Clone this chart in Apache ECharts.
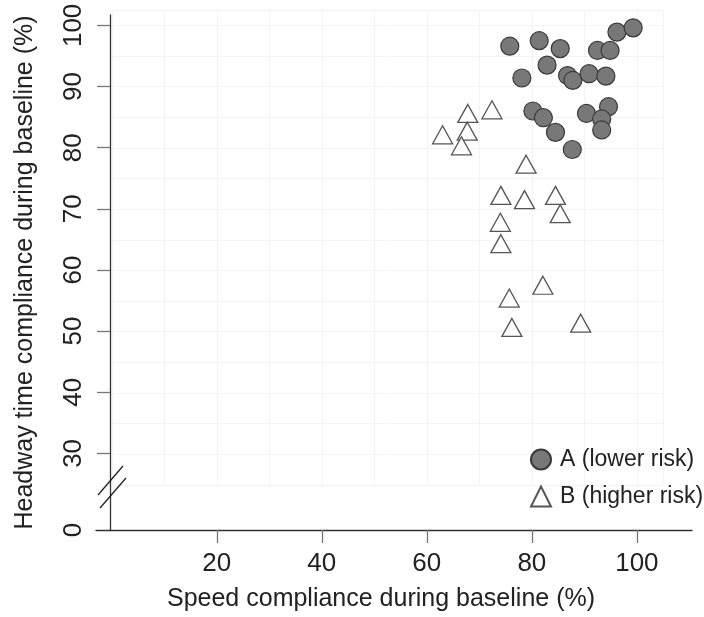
<!DOCTYPE html>
<html>
<head>
<meta charset="utf-8">
<script src="https://cdn.jsdelivr.net/npm/echarts@6/dist/echarts.min.js"></script>
<style>
    html,body{margin:0;padding:0;background:#fff;}
    #chart1{width:704px;height:617px;}
</style>
</head>
<body>
<div id="chart1"></div>
<script>
// 数据
var groupA_x = [75.8, 81.4, 85.4, 96.2, 99.3, 92.5, 94.9, 82.9, 78.1, 86.8, 87.8, 90.9, 94.1, 80.2, 82.2, 84.5, 87.7, 90.4, 94.6, 93.3, 93.3];
var groupA_y = [96.6, 97.5, 96.2, 98.9, 99.6, 95.9, 95.9, 93.5, 91.4, 91.8, 91.0, 92.1, 91.7, 86.0, 84.9, 82.5, 79.7, 85.6, 86.7, 84.7, 82.9];
var groupB_x = [67.8, 72.4, 63.0, 67.7, 66.6, 78.9, 74.1, 78.6, 84.5, 85.4, 74.0, 74.1, 82.1, 75.7, 76.2, 89.3];
var groupB_y = [85.6, 86.2, 82.1, 82.7, 80.3, 77.3, 72.2, 71.5, 72.2, 69.2, 67.8, 64.3, 57.5, 55.4, 50.6, 51.3];
var xTicks = [20, 40, 60, 80, 100];
var yTicks = [30, 40, 50, 60, 70, 80, 90, 100];
var yBreakPos = 17.47;   // 断轴处 "0" 的位置
var seriesNames = ['A (lower risk)', 'B (higher risk)'];

function pairs(xs, ys) {
    var out = [];
    for (var i = 0; i < xs.length; i++) {
        out.push([xs[i], ys[i]]);
    }
    return out;
}

var myChart1 = echarts.init(document.getElementById('chart1'));
var font = 'Liberation Sans, Arial, sans-serif';

var option1 = {
    animation: false,
    textStyle: {fontFamily: font},
    grid: [
        {left: 96, right: 12, top: 15, bottom: 86},
        // 淡色背景网格
        {left: 111.75, right: 40.9, top: 10.1, bottom: 132.1}
    ],
    legend: {
        orient: 'vertical',
        left: 525,
        top: 443,
        itemWidth: 20,
        itemHeight: 20,
        itemGap: 14,
        textStyle: {fontSize: 23, lineHeight: 20, color: '#222', fontFamily: font, padding: [0, 0, 0, 4]},
        data: seriesNames
    },
    xAxis: [
        {
            type: 'value',
            gridIndex: 0,
            min: -3,
            max: 110.5,
            name: 'Speed compliance during baseline (%)',
            nameLocation: 'middle',
            nameGap: 57,
            nameTextStyle: {fontSize: 25, color: '#222', fontFamily: font, padding: [0, 26, 0, 0]},
            axisLine: {onZero: false, lineStyle: {color: '#333', width: 1.3}},
            axisTick: {show: true, length: 13, customValues: xTicks, lineStyle: {color: '#777', width: 1.3}},
            axisLabel: {fontSize: 26, color: '#222', margin: 21, customValues: xTicks},
            splitLine: {show: false}
        },
        {
            type: 'value',
            gridIndex: 1,
            min: 0,
            max: 105,
            interval: 10,
            axisLine: {show: false},
            axisTick: {show: false},
            axisLabel: {show: false},
            splitLine: {show: true, lineStyle: {color: '#f4f4f4', width: 1}}
        }
    ],
    yAxis: [
        {
            type: 'value',
            gridIndex: 0,
            min: yBreakPos,
            max: 101.7,
            offset: -14,
            name: 'Headway time compliance during baseline (%)',
            nameLocation: 'middle',
            nameRotate: 90,
            nameGap: 72,
            nameTextStyle: {fontSize: 25, color: '#222', fontFamily: font},
            axisLine: {onZero: false, lineStyle: {color: '#333', width: 1.3}},
            axisTick: {show: true, length: 13, customValues: yTicks, lineStyle: {color: '#777', width: 1.3}},
            axisLabel: {
                fontSize: 26,
                color: '#222',
                rotate: 90,
                margin: 23,
                customValues: [yBreakPos].concat(yTicks),
                formatter: function (v) {
                    return v < 20 ? '0' : String(Math.round(v));
                }
            },
            splitLine: {show: false}
        },
        {
            type: 'value',
            gridIndex: 1,
            min: 25,
            max: 102.5,
            interval: 5,
            axisLine: {show: false},
            axisTick: {show: false},
            axisLabel: {show: false},
            splitLine: {show: true, lineStyle: {color: '#f4f4f4', width: 1}}
        }
    ],
    // 断轴符号
    graphic: [
        {type: 'line', shape: {x1: 98, y1: 495, x2: 123, y2: 466}, style: {stroke: '#222', lineWidth: 1.3}, z: 100},
        {type: 'line', shape: {x1: 100, y1: 508, x2: 126, y2: 478}, style: {stroke: '#222', lineWidth: 1.3}, z: 100}
    ],
    series: [
        {
            name: seriesNames[0],
            type: 'scatter',
            xAxisIndex: 0,
            yAxisIndex: 0,
            symbol: 'circle',
            symbolSize: 18,
            itemStyle: {color: '#787878', borderColor: '#3a3a3a', borderWidth: 1.2, opacity: 1},
            data: pairs(groupA_x, groupA_y)
        },
        {
            name: seriesNames[1],
            type: 'scatter',
            xAxisIndex: 0,
            yAxisIndex: 0,
            symbol: 'triangle',
            symbolSize: [20, 18],
            itemStyle: {color: '#fff', borderColor: '#555', borderWidth: 1.3, opacity: 1},
            data: pairs(groupB_x, groupB_y)
        }
    ]
};

myChart1.setOption(option1);
</script>
</body>
</html>
